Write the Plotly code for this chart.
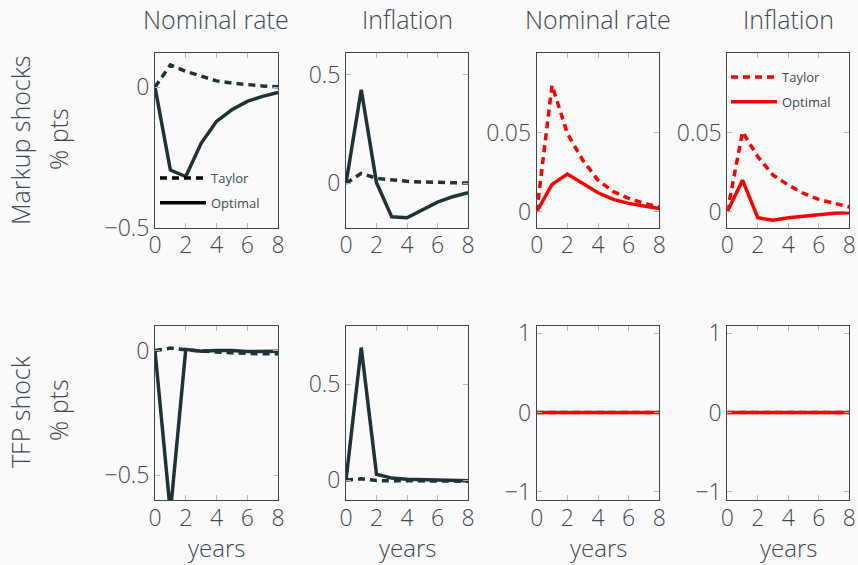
import plotly.graph_objects as go

years = [0, 1, 2, 3, 4, 5, 6, 7, 8]

# Row 1: markup shocks
mk_rate_taylor = [0, 0.079, 0.056, 0.038, 0.022, 0.014, 0.008, 0.004, 0.001]
mk_rate_optimal = [0, -0.295, -0.318, -0.200, -0.122, -0.081, -0.051, -0.033, -0.019]
mk_infl_taylor = [0, 0.046, 0.023, 0.014, 0.009, 0.006, 0.004, 0.002, 0.001]
mk_infl_optimal = [0, 0.432, 0.003, -0.155, -0.159, -0.124, -0.087, -0.062, -0.043]
mk_rate_taylor_red = [0, 0.080, 0.0496, 0.0327, 0.020, 0.0127, 0.0085, 0.0053, 0.003]
mk_rate_optimal_red = [0, 0.0173, 0.0239, 0.018, 0.012, 0.0078, 0.0053, 0.0036, 0.0021]
mk_infl_taylor_red = [0, 0.0506, 0.0348, 0.0232, 0.0169, 0.0116, 0.0078, 0.0053, 0.003]
mk_infl_optimal_red = [0, 0.020, -0.0038, -0.0053, -0.0038, -0.0027, -0.0017, -0.001, -0.0006]

# Row 2: TFP shock
tfp_rate_taylor = [0, 0.010, 0.003, -0.003, -0.006, -0.009, -0.012, -0.013, -0.013]
tfp_rate_optimal = [0, -0.65, 0.005, -0.003, 0.0, 0.0, -0.004, -0.003, -0.003]
tfp_infl_taylor = [0, 0.006, -0.003, -0.004, -0.005, -0.006, -0.006, -0.006, -0.006]
tfp_infl_optimal = [0, 0.69, 0.03, 0.01, 0.004, 0.001, -0.002, -0.003, -0.004]
tfp_rate_taylor_red = [0, 0, 0, 0, 0, 0, 0, 0, 0]
tfp_rate_optimal_red = [0, 0, 0, 0, 0, 0, 0, 0, 0]
tfp_infl_taylor_red = [0, 0, 0, 0, 0, 0, 0, 0, 0]
tfp_infl_optimal_red = [0, 0, 0, 0, 0, 0, 0, 0, 0]

col_titles = ["Nominal rate", "Inflation", "Nominal rate", "Inflation"]
row_titles = ["Markup shocks", "TFP shock"]
row_units = "% pts"
x_title = "years"
x_ticks = [0, 2, 4, 6, 8]
x_ticktext = ["0", "2", "4", "6", "8"]

y_ranges = [
    [[-0.5, 0.12], [-0.205, 0.60], [-0.0101, 0.1003], [-0.0101, 0.1003]],
    [[-0.60, 0.10], [-0.104, 0.804], [-1.105, 1.096], [-1.105, 1.096]],
]
y_tickvals = [
    [[-0.5, 0], [0, 0.5], [0, 0.05], [0, 0.05]],
    [[-0.5, 0], [0, 0.5], [-1, 0, 1], [-1, 0, 1]],
]
y_ticktext = [
    [["\u22120.5", "0"], ["0", "0.5"], ["0", "0.05"], ["0", "0.05"]],
    [["\u22120.5", "0"], ["0", "0.5"], ["\u22121", "0", "1"], ["\u22121", "0", "1"]],
]

series = [
    [(mk_rate_taylor, mk_rate_optimal), (mk_infl_taylor, mk_infl_optimal),
     (mk_rate_taylor_red, mk_rate_optimal_red), (mk_infl_taylor_red, mk_infl_optimal_red)],
    [(tfp_rate_taylor, tfp_rate_optimal), (tfp_infl_taylor, tfp_infl_optimal),
     (tfp_rate_taylor_red, tfp_rate_optimal_red), (tfp_infl_taylor_red, tfp_infl_optimal_red)],
]

W, H = 858, 565
col_px = [(155, 278), (346, 468), (536.7, 659.3), (727.3, 849.3)]
row_px = [(53.3, 227.7), (325.7, 500.0)]

DARK = "#1f3337"
RED = "#ff0000"
AXIS = "#3a474d"
TICK = "#b5b5b5"
TEXT = "#3d4a50"
FONT = "Open Sans, sans-serif"
DASH = "7px,5px"
FW = 300
LW = 3.5

fig = go.Figure()
layout = {}
for r in range(2):
    for c in range(4):
        idx = r * 4 + c + 1
        xa = "xaxis" if idx == 1 else f"xaxis{idx}"
        ya = "yaxis" if idx == 1 else f"yaxis{idx}"
        xref = "x" if idx == 1 else f"x{idx}"
        yref = "y" if idx == 1 else f"y{idx}"
        color = DARK if c < 2 else RED
        taylor, optimal = series[r][c]
        fig.add_trace(go.Scatter(x=years, y=taylor, mode="lines", xaxis=xref, yaxis=yref,
                                 line=dict(color=color, width=LW, dash=DASH), showlegend=False,
                                 hoverinfo="skip"))
        fig.add_trace(go.Scatter(x=years, y=optimal, mode="lines", xaxis=xref, yaxis=yref,
                                 line=dict(color=color, width=LW), showlegend=False,
                                 hoverinfo="skip"))
        x0, x1 = col_px[c]
        y0, y1 = row_px[r]
        common = dict(showgrid=False, zeroline=False, showline=True, linecolor=AXIS, linewidth=1,
                      mirror="ticks", ticks="inside", ticklen=5, tickcolor=TICK, tickwidth=1,
                      automargin=False,
                      tickfont=dict(family=FONT, size=23, color=TEXT, weight=FW))
        layout[xa] = dict(domain=[x0 / W, x1 / W], anchor=yref, range=[0, 8],
                          tickvals=x_ticks, ticktext=x_ticktext, ticklabelstandoff=-3, **common)
        layout[ya] = dict(domain=[1 - y1 / H, 1 - y0 / H], anchor=xref, range=y_ranges[r][c],
                          tickvals=y_tickvals[r][c], ticktext=y_ticktext[r][c], **common)

# legend entries (line samples)
fig.add_trace(go.Scatter(x=[None], y=[None], mode="lines", name="Taylor",
                         line=dict(color="#000000", width=LW, dash=DASH), legend="legend",
                         legendgroup="a"))
fig.add_trace(go.Scatter(x=[None], y=[None], mode="lines", name="Optimal",
                         line=dict(color="#000000", width=LW), legend="legend", legendgroup="b"))
fig.add_trace(go.Scatter(x=[None], y=[None], mode="lines", name="Taylor",
                         line=dict(color=RED, width=LW, dash=DASH), legend="legend2",
                         legendgroup="c"))
fig.add_trace(go.Scatter(x=[None], y=[None], mode="lines", name="Optimal",
                         line=dict(color=RED, width=LW), legend="legend2", legendgroup="d"))

legend_style = dict(bgcolor="rgba(0,0,0,0)", borderwidth=0, traceorder="grouped",
                    tracegroupgap=5, xanchor="left", yanchor="top", itemwidth=46,
                    font=dict(family=FONT, size=13, color=TEXT))

annotations = []
title_font = dict(family=FONT, size=25, color=TEXT, weight=FW)
years_font = dict(family=FONT, size=24, color=TEXT, weight=FW)
for c in range(4):
    x0, x1 = col_px[c]
    annotations.append(dict(text=col_titles[c], x=(x0 + x1) / 2 / W, y=1 - 19 / H,
                            xref="paper", yref="paper", showarrow=False,
                            xanchor="center", yanchor="middle", font=title_font))
    annotations.append(dict(text=x_title, x=(x0 + x1) / 2 / W, y=0,
                            xref="paper", yref="paper", showarrow=False, borderpad=0,
                            xanchor="center", yanchor="bottom", font=years_font))
row_centers = [141, 412]
for r in range(2):
    annotations.append(dict(text=row_titles[r], x=20 / W, y=1 - row_centers[r] / H,
                            xref="paper", yref="paper", showarrow=False, textangle=-90,
                            xanchor="center", yanchor="middle", font=title_font))
    annotations.append(dict(text=row_units, x=58 / W, y=1 - (row_centers[r] - 2) / H,
                            xref="paper", yref="paper", showarrow=False, textangle=-90,
                            xanchor="center", yanchor="middle", font=title_font))

fig.update_layout(
    width=W, height=H, margin=dict(l=0, r=0, t=0, b=0, autoexpand=False),
    paper_bgcolor="#fafafa", plot_bgcolor="#fafafa",
    annotations=annotations,
    legend=dict(x=155 / W, y=1 - 163 / H, **legend_style),
    legend2=dict(x=726 / W, y=1 - 62 / H, **legend_style),
    **layout,
)

fig.write_html(
    "out.html",
    config={"displayModeBar": False},
    post_script="document.body.style.margin='0';document.body.style.background='#fafafa';",
)
